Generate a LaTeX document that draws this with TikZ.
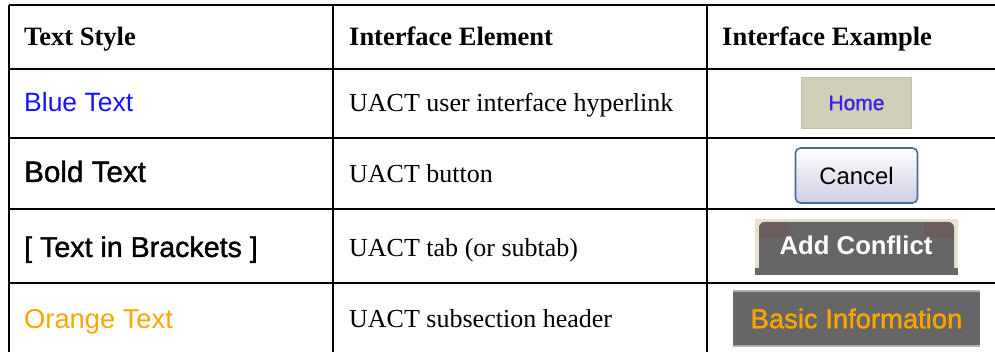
\documentclass[tikz,border=0pt]{standalone}
\usepackage{fontspec}
\setmainfont{Liberation Serif}
\setsansfont{Liberation Sans}
\newfontfamily\medsans[FakeBold=1.3]{Liberation Sans}
\definecolor{linkblue}{RGB}{20,20,255}
\definecolor{hdrorange}{RGB}{255,165,0}
\definecolor{homebg}{RGB}{208,208,184}
\definecolor{homeedge}{RGB}{194,194,170}
\definecolor{homeblue}{RGB}{64,32,232}
\definecolor{btnedge}{RGB}{74,108,148}
\definecolor{btnlow}{RGB}{206,206,228}
\definecolor{tabbg}{RGB}{230,226,204}
\definecolor{tabgray}{RGB}{102,102,102}
\definecolor{tabred}{RGB}{108,94,94}
\definecolor{barline}{RGB}{176,176,176}
\newcommand{\pxsize}[1]{\fontsize{#1}{#1}\selectfont}

\begin{document}
\begin{tikzpicture}[x=1pt,y=-1pt,line join=round,
	txt/.style={anchor=base west,inner sep=0pt},
	head/.style={txt,font={\pxsize{26.5}\bfseries}},
	elem/.style={txt,font={\pxsize{26}}},
	homebtn/.style={draw=homeedge,line width=1.5pt,fill=homebg,minimum width=110pt,minimum height=51pt,inner sep=0pt,text=homeblue,font={\medsans\pxsize{21}}},
	cancelbtn/.style={draw=btnedge,line width=1.6pt,rounded corners=5pt,top color=white,bottom color=btnlow,minimum width=122pt,minimum height=55pt,inner sep=0pt,font={\sffamily\pxsize{23.8}}},
	barbox/.style={fill=tabgray,minimum width=247pt,minimum height=54pt,inner sep=0pt,text=hdrorange,font={\medsans\pxsize{27.4}}}]
	\useasboundingbox (0,0) rectangle (995,352);
	% grid of the table
	\foreach \y in {5,69,138,209,283}{\draw[line width=2.2pt] (9,\y)--(995,\y);}
	\foreach \x in {9,333,707}{\draw[line width=2.2pt] (\x,5)--(\x,352);}
	% header row
	\node[head] (h1) at (24,45.7) {Text Style};
	\node[head] (h2) at (349,45.7) {Interface Element};
	\node[head] (h3) at (722,45.7) {Interface Example};
	% text styles
	\node[txt,font={\sffamily\pxsize{26.5}},text=linkblue] (s1) at (24,112) {Blue Text};
	\node[txt,font={\medsans\pxsize{29.6}}] (s2) at (24,182) {Bold Text};
	\node[txt,font={\medsans\pxsize{28.6}}] (s3) at (24,257) {[ Text in Brackets ]};
	\node[txt,font={\sffamily\pxsize{27.3}},text=hdrorange] (s4) at (24,328) {Orange Text};
	% interface elements
	\node[elem] (e1) at (349,112) {UACT user interface hyperlink};
	\node[elem] (e2) at (349,183) {UACT button};
	\node[elem] (e3) at (349,257) {UACT tab (or subtab)};
	\node[elem] (e4) at (349,327) {UACT subsection header};
	% examples
	\node[homebtn] (home) at (856.5,103) {Home};
	\node[cancelbtn] (cancel) at (856.5,175.5) {Cancel};
	\fill[tabbg] (755,219) rectangle (958,271);
	\begin{scope}
		\clip[rounded corners=6pt] (759,282)--(759,222)--(954,222)--(954,282)--cycle;
		\fill[tabgray] (755,219) rectangle (958,275);
		\fill[tabred] (759,222) rectangle (789,237);
		\fill[tabred] (924,222) rectangle (954,237);
	\end{scope}
	\fill[tabgray] (755,268) rectangle (958,275);
	\node[anchor=base,inner sep=0pt,text=white,font={\sffamily\bfseries\pxsize{25.7}}] (tab) at (856,255) {Add Conflict};
	\node[barbox] (basic) at (856.5,318.5) {Basic Information};
	\draw[barline,line width=2pt] (basic.north west)--(basic.north east);
	\draw[barline,line width=2pt] (basic.south west)--(basic.south east);
\end{tikzpicture}
\end{document}
